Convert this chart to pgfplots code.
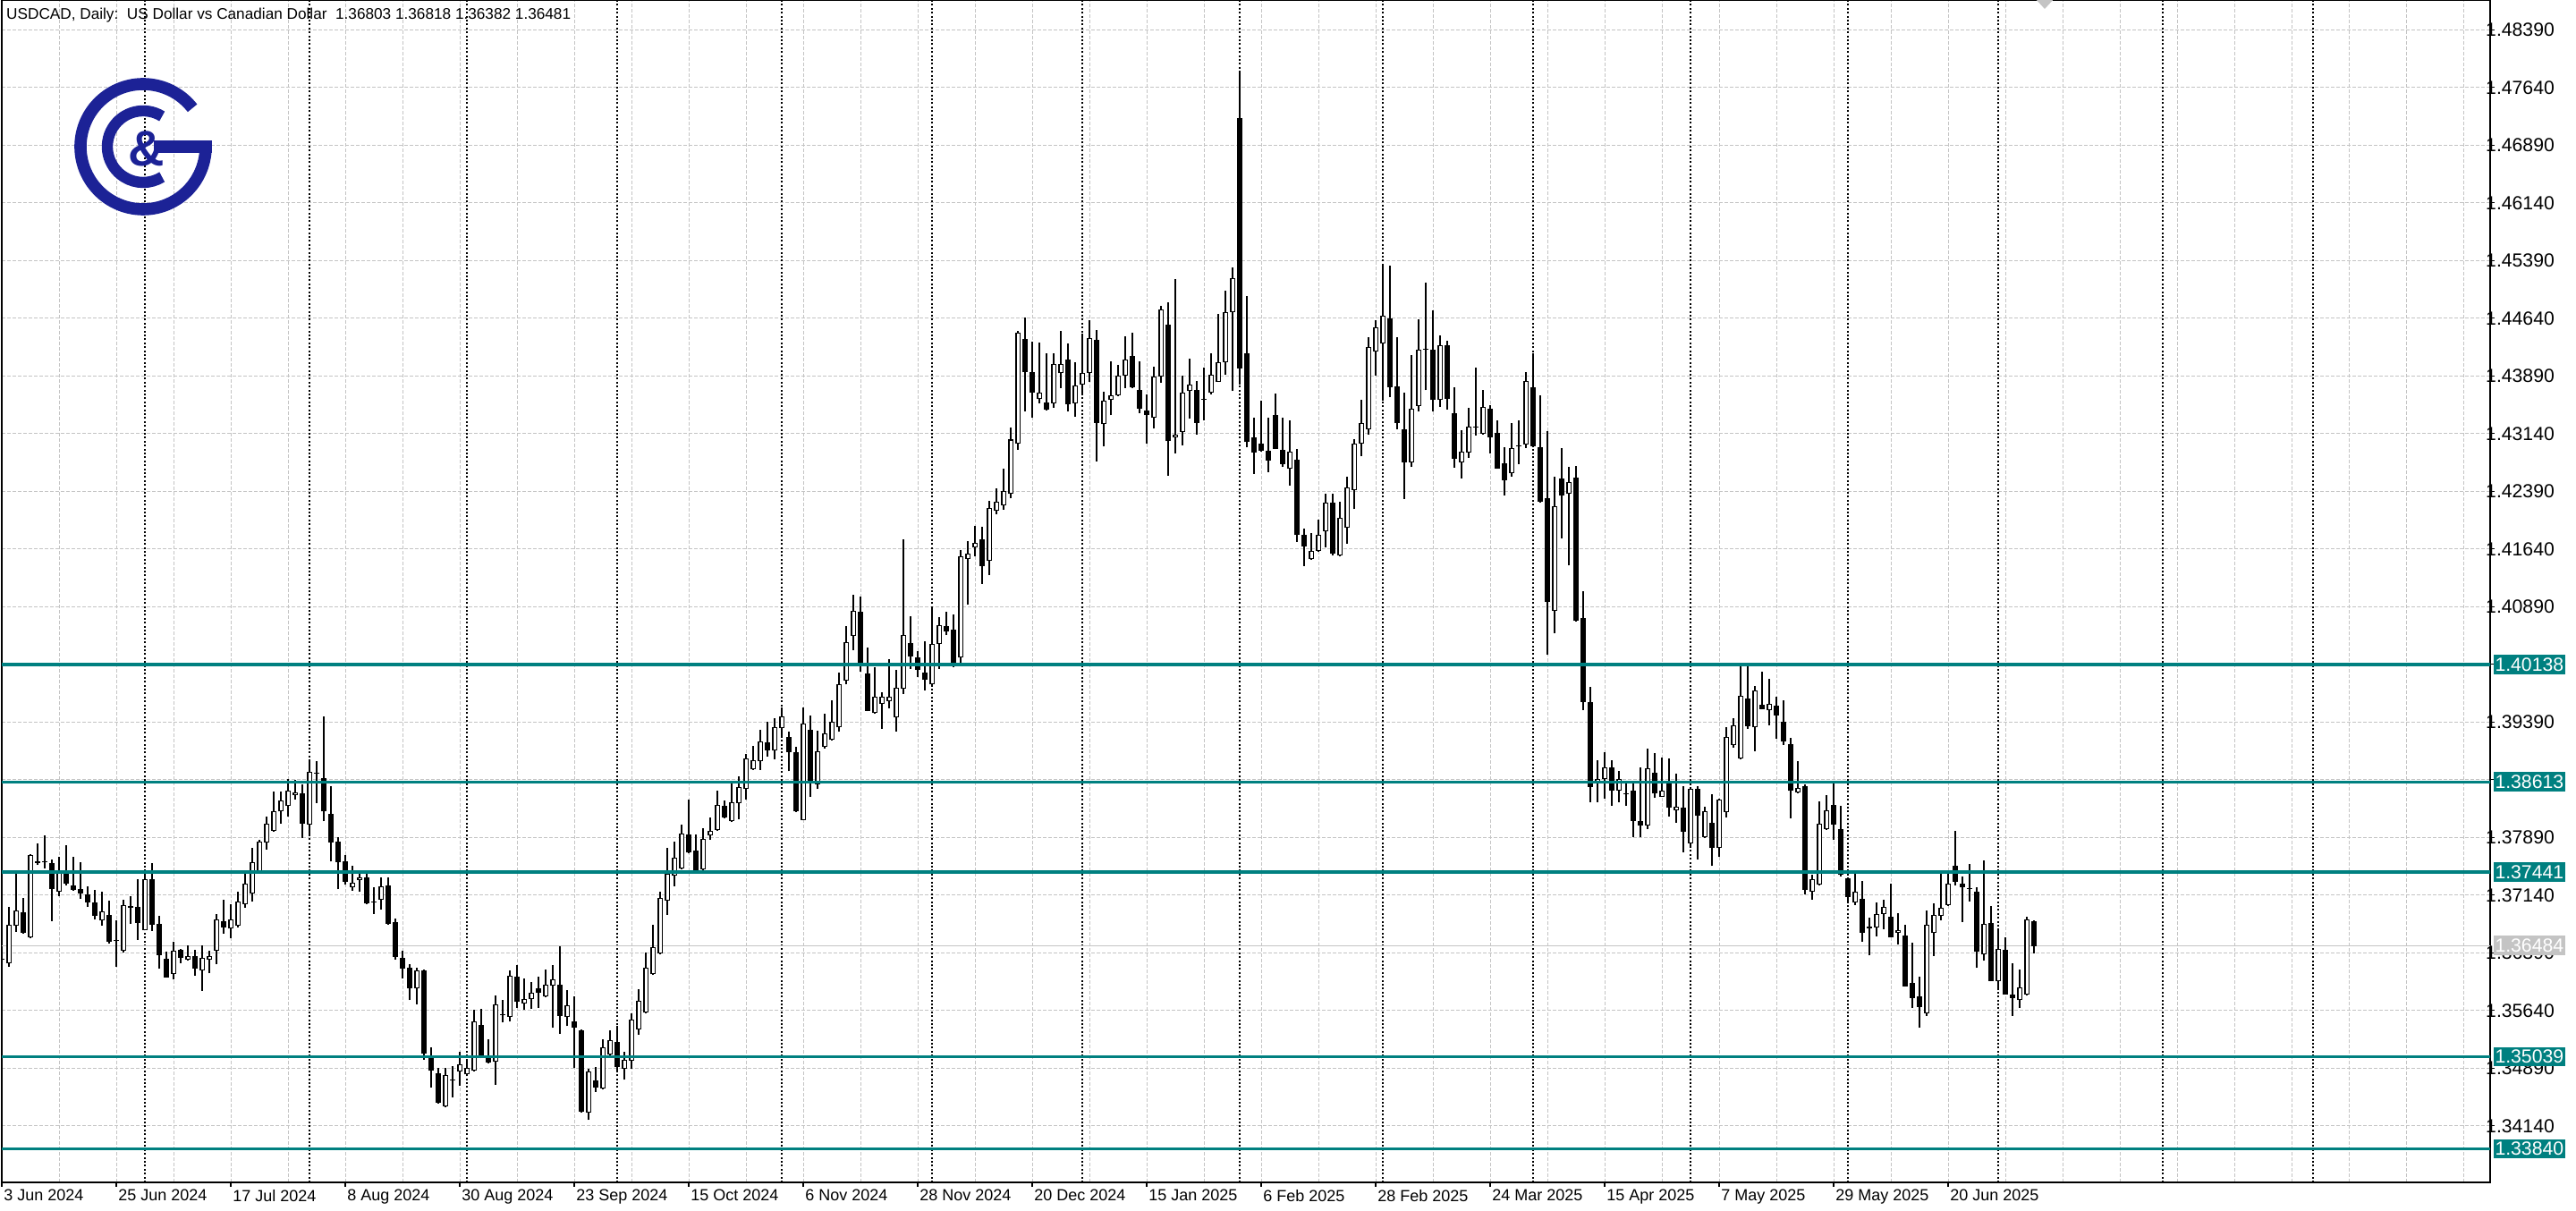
\documentclass[border=0pt]{standalone}
\usepackage{fontspec}
\setmainfont{Liberation Sans}
\usepackage{pgfplots}
\usepackage{pgfplotstable}
\pgfplotsset{compat=1.18}
\definecolor{lvl}{RGB}{0,128,128}
\definecolor{gridc}{RGB}{196,196,196}
\definecolor{logoc}{RGB}{28,34,150}
\pgfplotstableread{
k O H L C
0 1.36310 1.36400 1.36200 1.36300
1 1.36259 1.36984 1.36208 1.36751
2 1.36740 1.37422 1.36666 1.36937
3 1.36914 1.37104 1.36640 1.36654
4 1.36588 1.37670 1.36580 1.37658
5 1.37580 1.37817 1.37530 1.37560
6 1.37580 1.37918 1.37492 1.37570
7 1.37557 1.37604 1.36802 1.37224
8 1.37189 1.37639 1.37131 1.37449
9 1.37422 1.37790 1.37267 1.37286
10 1.37267 1.37639 1.37200 1.37209
11 1.37220 1.37569 1.37092 1.37162
12 1.37150 1.37259 1.36987 1.37049
13 1.37046 1.37209 1.36821 1.36871
14 1.36809 1.37181 1.36743 1.36926
15 1.36879 1.37073 1.36511 1.36538
16 1.36545 1.36813 1.36212 1.36540
17 1.36414 1.37080 1.36400 1.37007
18 1.36972 1.37123 1.36771 1.36996
19 1.36984 1.37344 1.36561 1.36782
20 1.36689 1.37414 1.36680 1.37344
21 1.37344 1.37553 1.36678 1.36759
22 1.36763 1.36867 1.36181 1.36364
23 1.36309 1.36402 1.36073 1.36073
24 1.36119 1.36534 1.36046 1.36414
25 1.36433 1.36440 1.36259 1.36328
26 1.36305 1.36484 1.36286 1.36344
27 1.36344 1.36425 1.36096 1.36189
28 1.36158 1.36484 1.35899 1.36321
29 1.36305 1.36414 1.36123 1.36344
30 1.36422 1.36891 1.36240 1.36821
31 1.36802 1.37081 1.36639 1.36724
32 1.36705 1.37027 1.36577 1.36821
33 1.36743 1.37181 1.36724 1.37053
34 1.37027 1.37468 1.36976 1.37286
35 1.37158 1.37751 1.37053 1.37569
36 1.37452 1.37856 1.37440 1.37836
37 1.37828 1.38158 1.37732 1.38065
38 1.37980 1.38487 1.37964 1.38228
39 1.38228 1.38487 1.38073 1.38367
40 1.38297 1.38646 1.38158 1.38495
41 1.38437 1.38635 1.38383 1.38480
42 1.38464 1.38576 1.37879 1.38073
43 1.38061 1.38883 1.37925 1.38739
44 1.38730 1.38883 1.38340 1.38725
45 1.38658 1.39464 1.38100 1.38228
46 1.38197 1.38553 1.37576 1.37828
47 1.37836 1.37898 1.37216 1.37573
48 1.37577 1.37662 1.37274 1.37317
49 1.37247 1.37518 1.37197 1.37297
50 1.37332 1.37468 1.37181 1.37367
51 1.37367 1.37468 1.37023 1.37034
52 1.37052 1.37243 1.36898 1.37048
53 1.37084 1.37375 1.36956 1.37251
54 1.37263 1.37375 1.36760 1.36771
55 1.36790 1.36840 1.36305 1.36336
56 1.36325 1.36414 1.36057 1.36189
57 1.36193 1.36247 1.35774 1.35933
58 1.35933 1.36201 1.35724 1.36162
59 1.36162 1.36170 1.34999 1.35076
60 1.35030 1.35158 1.34643 1.34856
61 1.34821 1.34898 1.34430 1.34437
62 1.34398 1.34891 1.34379 1.34798
63 1.34730 1.34914 1.34515 1.34735
64 1.34844 1.35104 1.34662 1.34937
65 1.34809 1.35011 1.34786 1.34895
66 1.34856 1.35646 1.34850 1.35495
67 1.35449 1.35658 1.35018 1.35057
68 1.35026 1.35267 1.34955 1.34960
69 1.34972 1.35832 1.34677 1.35716
70 1.35580 1.35774 1.35484 1.35585
71 1.35561 1.36162 1.35495 1.36092
72 1.36077 1.36228 1.35677 1.35751
73 1.35728 1.36057 1.35650 1.35786
74 1.35786 1.36007 1.35666 1.35867
75 1.35926 1.36077 1.35677 1.35867
76 1.35821 1.36170 1.35809 1.35972
77 1.35961 1.36228 1.35414 1.36042
78 1.35972 1.36472 1.35340 1.35573
79 1.35553 1.35902 1.35437 1.35705
80 1.35495 1.35821 1.34891 1.35414
81 1.35379 1.35390 1.34310 1.34321
82 1.34309 1.34879 1.34216 1.34844
83 1.34728 1.34902 1.34585 1.34643
84 1.34631 1.35271 1.34612 1.35158
85 1.35065 1.35379 1.35026 1.35251
86 1.35228 1.35437 1.34844 1.34902
87 1.34883 1.35100 1.34740 1.34995
88 1.34988 1.35600 1.34883 1.35519
89 1.35395 1.35918 1.35329 1.35763
90 1.35612 1.36395 1.35600 1.36193
91 1.36112 1.36755 1.36100 1.36460
92 1.36383 1.37181 1.36370 1.37100
93 1.37073 1.37751 1.36887 1.37414
94 1.37391 1.37836 1.37259 1.37623
95 1.37491 1.38057 1.37480 1.37937
96 1.37926 1.38383 1.37680 1.37693
97 1.37716 1.37926 1.37450 1.37460
98 1.37472 1.38011 1.37465 1.37868
99 1.37914 1.38150 1.37863 1.37972
100 1.37983 1.38495 1.37975 1.38309
101 1.38297 1.38367 1.38140 1.38146
102 1.38100 1.38592 1.38088 1.38352
103 1.38336 1.38681 1.38131 1.38541
104 1.38519 1.38980 1.38387 1.38914
105 1.38774 1.39081 1.38770 1.38891
106 1.38879 1.39290 1.38770 1.39135
107 1.39127 1.39398 1.38945 1.39022
108 1.39018 1.39445 1.38906 1.39321
109 1.39309 1.39584 1.39205 1.39460
110 1.39197 1.39263 1.38751 1.39003
111 1.38995 1.39065 1.38220 1.38228
112 1.38116 1.39581 1.38110 1.39367
113 1.39290 1.39476 1.38422 1.38592
114 1.38577 1.39274 1.38519 1.39007
115 1.39065 1.39499 1.39050 1.39240
116 1.39158 1.39670 1.39150 1.39391
117 1.39320 1.40028 1.39262 1.39885
118 1.39930 1.40642 1.39877 1.40428
119 1.40508 1.41051 1.40330 1.40833
120 1.40820 1.41020 1.40041 1.40139
121 1.40019 1.40362 1.39530 1.39538
122 1.39507 1.40108 1.39494 1.39716
123 1.39627 1.39774 1.39307 1.39716
124 1.39663 1.40210 1.39574 1.39716
125 1.39449 1.40063 1.39271 1.39841
126 1.39819 1.41763 1.39752 1.40517
127 1.40419 1.40767 1.40086 1.40241
128 1.40233 1.40308 1.39975 1.40072
129 1.40028 1.40442 1.39805 1.39939
130 1.39877 1.40878 1.39870 1.40406
131 1.40406 1.40753 1.40086 1.40655
132 1.40633 1.40820 1.40517 1.40566
133 1.40589 1.40789 1.40108 1.40144
134 1.40228 1.41630 1.40139 1.41541
135 1.41510 1.41746 1.40918 1.41576
136 1.41657 1.41941 1.41545 1.41723
137 1.41763 1.41924 1.41185 1.41421
138 1.41483 1.42262 1.41305 1.42168
139 1.42133 1.42431 1.42088 1.42253
140 1.42213 1.42680 1.42155 1.42391
141 1.42355 1.43214 1.42297 1.43063
142 1.43009 1.44478 1.42934 1.44447
143 1.44371 1.44647 1.43432 1.43935
144 1.43935 1.44335 1.43343 1.43668
145 1.43588 1.44326 1.43535 1.43668
146 1.43546 1.44185 1.43440 1.43449
147 1.43538 1.44185 1.43476 1.44042
148 1.43925 1.44476 1.43732 1.44042
149 1.44104 1.44313 1.43429 1.43526
150 1.43538 1.44069 1.43363 1.43767
151 1.43778 1.44437 1.43643 1.43925
152 1.43933 1.44612 1.43817 1.44379
153 1.44360 1.44484 1.42782 1.43282
154 1.43263 1.43681 1.42972 1.43565
155 1.43577 1.44081 1.43379 1.43635
156 1.43635 1.44030 1.43630 1.43894
157 1.43894 1.44406 1.43732 1.44104
158 1.44146 1.44449 1.43730 1.43739
159 1.43708 1.44081 1.43410 1.43468
160 1.43437 1.43650 1.43015 1.43379
161 1.43344 1.44011 1.43205 1.43883
162 1.43883 1.44798 1.43805 1.44755
163 1.44553 1.44844 1.42596 1.43042
164 1.43088 1.45150 1.42887 1.43127
165 1.43166 1.43894 1.42991 1.43674
166 1.43693 1.44115 1.43332 1.43778
167 1.43708 1.43825 1.43131 1.43282
168 1.43586 1.43999 1.43313 1.43582
169 1.43670 1.44185 1.43654 1.43902
170 1.43817 1.44697 1.43810 1.44065
171 1.44065 1.45000 1.43902 1.44716
172 1.44716 1.45300 1.43693 1.45161
173 1.47238 1.47855 1.43781 1.43988
174 1.44180 1.44932 1.42960 1.43030
175 1.43092 1.43350 1.42618 1.42898
176 1.43006 1.43566 1.42911 1.42920
177 1.42920 1.43350 1.42640 1.42790
178 1.43385 1.43661 1.42935 1.42941
179 1.42928 1.43350 1.42704 1.42747
180 1.42683 1.43316 1.42467 1.42907
181 1.42799 1.42941 1.41734 1.41820
182 1.41820 1.41907 1.41420 1.41670
183 1.41506 1.41842 1.41500 1.41618
184 1.41618 1.42023 1.41605 1.41820
185 1.41872 1.42359 1.41661 1.42239
186 1.42239 1.42359 1.41553 1.41575
187 1.41553 1.42260 1.41540 1.42049
188 1.41920 1.42575 1.41713 1.42446
189 1.42411 1.43071 1.42157 1.43015
190 1.43015 1.43579 1.42842 1.43273
191 1.43200 1.44394 1.43127 1.44265
192 1.44213 1.44614 1.43898 1.44523
193 1.44308 1.45333 1.43566 1.44674
194 1.44639 1.45325 1.43618 1.43747
195 1.43760 1.44394 1.43200 1.43273
196 1.43191 1.43674 1.42295 1.42769
197 1.42769 1.44161 1.42704 1.43467
198 1.43502 1.44622 1.43428 1.44234
199 1.44236 1.45105 1.43704 1.44232
200 1.44226 1.44743 1.43428 1.43575
201 1.43575 1.44416 1.43489 1.44290
202 1.44290 1.44342 1.43458 1.43590
203 1.43400 1.43740 1.42700 1.42810
204 1.42770 1.43185 1.42557 1.42902
205 1.42894 1.43476 1.42829 1.43228
206 1.43226 1.43999 1.43119 1.43222
207 1.43139 1.43708 1.43130 1.43487
208 1.43460 1.43507 1.42887 1.43092
209 1.43150 1.43313 1.42680 1.42685
210 1.42751 1.42964 1.42336 1.42530
211 1.42623 1.43274 1.42584 1.42953
212 1.42974 1.43313 1.42743 1.42970
213 1.43003 1.43941 1.42956 1.43825
214 1.43739 1.44180 1.42960 1.42976
215 1.42964 1.43635 1.42240 1.42255
216 1.42298 1.43177 1.40270 1.40949
217 1.40832 1.42577 1.40542 1.42197
218 1.42557 1.42953 1.41782 1.42332
219 1.42356 1.42705 1.41425 1.42507
220 1.42569 1.42720 1.40700 1.40705
221 1.40743 1.41092 1.39550 1.39650
222 1.39650 1.39850 1.38350 1.38550
223 1.38600 1.38900 1.38350 1.38650
224 1.38650 1.39000 1.38400 1.38800
225 1.38800 1.38900 1.38300 1.38500
226 1.38500 1.38750 1.38350 1.38650
227 1.38450 1.38600 1.38300 1.38460
228 1.38500 1.38600 1.37900 1.38100
229 1.38100 1.38800 1.37900 1.38050
230 1.38050 1.39042 1.37995 1.38786
231 1.38728 1.38984 1.38402 1.38461
232 1.38422 1.38926 1.38415 1.38495
233 1.38596 1.38914 1.38166 1.38274
234 1.38247 1.38720 1.38081 1.38294
235 1.38274 1.38554 1.37701 1.37964
236 1.37817 1.38546 1.37778 1.38519
237 1.38526 1.38554 1.37608 1.38170
238 1.37895 1.38294 1.37879 1.38228
239 1.38081 1.38449 1.37519 1.37751
240 1.37751 1.38391 1.37635 1.38383
241 1.38216 1.39321 1.38150 1.39193
242 1.39088 1.39437 1.39061 1.39348
243 1.38914 1.40143 1.38905 1.39728
244 1.39697 1.40162 1.39302 1.39340
245 1.39321 1.39856 1.39011 1.39798
246 1.39612 1.40046 1.39555 1.39561
247 1.39542 1.39949 1.39352 1.39631
248 1.39600 1.39716 1.39174 1.39476
249 1.39399 1.39678 1.39096 1.39135
250 1.39108 1.39185 1.38139 1.38495
251 1.38480 1.38883 1.38468 1.38538
252 1.38554 1.38585 1.37150 1.37209
253 1.37189 1.37402 1.37081 1.37344
254 1.37274 1.38360 1.37265 1.38073
255 1.37995 1.38437 1.37990 1.38243
256 1.38313 1.38604 1.37856 1.38061
257 1.37995 1.38302 1.37385 1.37402
258 1.37356 1.37370 1.37034 1.37119
259 1.37042 1.37421 1.37014 1.37181
260 1.37092 1.37325 1.36538 1.36654
261 1.36714 1.36848 1.36356 1.36718
262 1.36724 1.37042 1.36607 1.36890
263 1.36898 1.37080 1.36697 1.36983
264 1.36859 1.37294 1.36590 1.36596
265 1.36654 1.36906 1.36503 1.36681
266 1.36615 1.36755 1.35950 1.35956
267 1.35999 1.36522 1.35677 1.35805
268 1.35825 1.36084 1.35414 1.35689
269 1.35607 1.36937 1.35569 1.36755
270 1.36646 1.37034 1.36348 1.36879
271 1.36871 1.37468 1.36817 1.36972
272 1.37014 1.37468 1.37000 1.37286
273 1.37518 1.37976 1.37266 1.37317
274 1.37286 1.37383 1.36794 1.37239
275 1.37222 1.37545 1.37061 1.37218
276 1.37181 1.37239 1.36193 1.36402
277 1.36367 1.37596 1.36286 1.36762
278 1.36782 1.36995 1.36020 1.36026
279 1.36018 1.36693 1.35902 1.36445
280 1.36433 1.36588 1.35845 1.35852
281 1.35844 1.36251 1.35573 1.35805
282 1.35774 1.36173 1.35677 1.35937
283 1.35852 1.36859 1.35832 1.36821
284 1.36803 1.36818 1.36382 1.36481
}\candles
\newcommand{\lblfont}{\fontsize{4.5bp}{5bp}\selectfont}
\newcommand{\yfont}{\fontsize{5.3bp}{6bp}\selectfont}
\begin{document}
\begin{tikzpicture}
\path[use as bounding box] (0bp,0bp) rectangle (720bp,338.5bp);
\begin{axis}[
  at={(0.5bp,8bp)}, anchor=south west, scale only axis,
  width=695.5bp, height=330.5bp,
  xmin=0, xmax=347.75, ymin=1.33406, ymax=1.48778,
  axis line style={line width=0.35bp, black},
  tick style={black, line width=0.3bp},
  major tick length=1.2bp, minor tick length=0pt,
  tick align=outside,
  xtick pos=bottom, ytick pos=right, yticklabel pos=right,
  xtick={0,16,...,272},
  xticklabels={3 Jun 2024,25 Jun 2024,17 Jul 2024,8 Aug 2024,30 Aug 2024,23 Sep 2024,15 Oct 2024,6 Nov 2024,28 Nov 2024,20 Dec 2024,15 Jan 2025,6 Feb 2025,28 Feb 2025,24 Mar 2025,15 Apr 2025,7 May 2025,29 May 2025,20 Jun 2025},
  xticklabel style={anchor=north west, inner sep=0pt, font=\lblfont, xshift=0.4bp, yshift=-0.6bp},
  minor xtick={8,16,...,344},
  xminorgrids=true,
  ytick={1.48390,1.47640,1.46890,1.46140,1.45390,1.44640,1.43890,1.43140,1.42390,1.41640,1.40890,1.40140,1.39390,1.38640,1.37890,1.37140,1.36390,1.35640,1.34890,1.34140},
  yticklabels={1.48390,1.47640,1.46890,1.46140,1.45390,1.44640,1.43890,1.43140,1.42390,1.41640,1.40890,{},1.39390,{},1.37890,1.37140,1.36390,1.35640,1.34890,1.34140},
  yticklabel style={anchor=west, inner sep=0pt, font=\yfont, xshift=-2.6bp},
  ymajorgrids=true,
  grid style={gridc, line width=0.25bp, dash pattern=on 0.9bp off 0.6bp},
  extra x ticks={20,43,65,86,109,130,151,173,193,214,236,258,279,302,323},
  extra x tick labels={},
  extra x tick style={grid=major, major grid style={black, line width=0.3bp, dash pattern=on 0.5bp off 0.6bp}, major tick length=0pt},
]
% bid line
\addplot[gridc, line width=0.3bp] coordinates {(0,1.36484) (348,1.36484)};
% wicks
\addplot[draw=none, mark=none, error bars/.cd, y dir=plus, y explicit, error mark=none,
  error bar style={draw=black, line width=0.3bp}]
  table[x=k, y=L, y error plus expr=\thisrow{H}-\thisrow{L}] {\candles};
% bodies (outline / black fill)
\addplot[draw=none, mark=none, error bars/.cd, y dir=plus, y explicit, error mark=none,
  error bar style={draw=black, line width=1.3bp}]
  table[x=k, y expr={min(\thisrow{O},\thisrow{C})}, y error plus expr={max(abs(\thisrow{C}-\thisrow{O}),0.00012)}] {\candles};
% white interior of rising candles
\addplot[draw=none, mark=none, error bars/.cd, y dir=plus, y explicit, error mark=none,
  error bar style={draw=white, line width=0.75bp}]
  table[x=k, y expr={\thisrow{O}+0.00012}, y error plus expr={max(\thisrow{C}-\thisrow{O}-0.00024,0)}] {\candles};
% levels
\addplot[lvl, line width=0.8bp] coordinates {(0,1.40138) (348,1.40138)};
\addplot[lvl, line width=0.8bp] coordinates {(0,1.38613) (348,1.38613)};
\addplot[lvl, line width=0.8bp] coordinates {(0,1.37441) (348,1.37441)};
\addplot[lvl, line width=0.8bp] coordinates {(0,1.35039) (348,1.35039)};
\addplot[lvl, line width=0.8bp] coordinates {(0,1.33840) (348,1.33840)};
\coordinate (r1) at (axis cs:347.75,1.40138);
\coordinate (r2) at (axis cs:347.75,1.38613);
\coordinate (r3) at (axis cs:347.75,1.37441);
\coordinate (r4) at (axis cs:347.75,1.35039);
\coordinate (r5) at (axis cs:347.75,1.33840);
\coordinate (r6) at (axis cs:347.75,1.36484);
\end{axis}
\foreach \n/\t in {r1/1.40138,r2/1.38613,r3/1.37441,r4/1.35039,r5/1.33840}{
  \node[fill=lvl, text=white, font=\yfont, inner sep=0pt, minimum width=20bp, minimum height=5.4bp, anchor=west] at ([xshift=0.75bp]\n) {\t};
}
\node[fill=gridc, text=white, font=\yfont, inner sep=0pt, minimum width=20bp, minimum height=5.4bp, anchor=west] at ([xshift=0.75bp]r6) {1.36484};
% header
\node[anchor=west, inner sep=0pt, font=\fontsize{4.3bp}{5bp}\selectfont] at (1.6bp,334.2bp) {USDCAD, Daily:\ \ US Dollar vs Canadian Dollar\ \ 1.36803 1.36818 1.36382 1.36481};
% chart-shift marker
\fill[gridc] (569.2bp,338.5bp) -- (573.8bp,338.5bp) -- (571.5bp,336bp) -- cycle;
% logo
\begin{scope}[shift={(40bp,297.5bp)}]
  \draw[logoc, line width=3.4bp] (38:17.5bp) arc (38:360:17.5bp);
  \draw[logoc, line width=3.4bp] (3bp,0) -- (19.2bp,0);
  \draw[logoc, line width=3.1bp] (58:10bp) arc (58:302:10bp);
  \node[logoc, font=\bfseries\fontsize{14bp}{14bp}\selectfont, inner sep=0pt] at (1bp,-0.5bp) {\&};
\end{scope}
\end{tikzpicture}
\end{document}
